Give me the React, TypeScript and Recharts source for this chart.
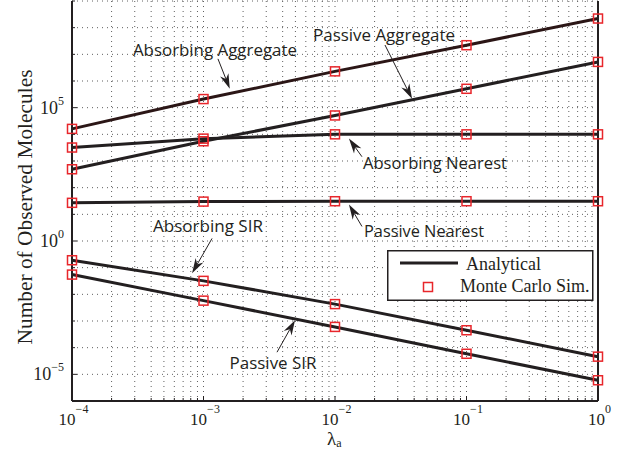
import React from 'react';
import { LineChart, Line, XAxis, YAxis, CartesianGrid, ReferenceLine, ReferenceDot, Legend } from 'recharts';

// lambda_a values where the curves were evaluated / simulated
const lambdaA = [1e-4, 1e-3, 1e-2, 1e-1, 1];

const absorbingAggregate = [1.6e4, 2.1e5, 2.3e6, 2.2e7, 2.2e8];
const passiveAggregate = [490, 5.5e3, 5.1e4, 5.1e5, 5.2e6];
const absorbingNearest = [3.2e3, 6.9e3, 1.0e4, 1.0e4, 1.0e4];
const passiveNearest = [27, 30, 31, 31, 31];
const absorbingSIR = [0.19, 0.032, 4.3e-3, 4.5e-4, 4.6e-5];
const passiveSIR = [0.055, 5.8e-3, 6.0e-4, 5.9e-5, 6.0e-6];

const seriesKeys = ['absAgg', 'pasAgg', 'absNear', 'pasNear', 'absSIR', 'pasSIR'];
const seriesColors = ['#2b1616', '#231f20', '#231f20', '#231f20', '#231f20', '#231f20'];

// axis decades (exponents)
const xDecades = [-4, -3, -2, -1, 0];
const yDecades = [-6, -5, -4, -3, -2, -1, 0, 1, 2, 3, 4, 5, 6, 7, 8, 9];
const yLabelled = [-5, 0, 5];
const minorSteps = [1, 2, 3, 4, 5, 6, 7, 8, 9];

// annotations: text position and arrow (tail -> head), in log10 units
const annotations = [
  { text: 'Absorbing Aggregate', tx: -2.913, ty: 6.94, w: 164, ax: -2.89, ay: 6.83, hx: -2.80, hy: 5.71 },
  { text: 'Passive Aggregate', tx: -1.627, ty: 7.5, w: 142, ax: -1.62, ay: 7.35, hx: -1.414, hy: 5.33 },
  { text: 'Absorbing Nearest', tx: -1.24, ty: 2.715, w: 144, ax: -1.795, ay: 3.16, hx: -1.894, hy: 3.84 },
  { text: 'Passive Nearest', tx: -1.323, ty: 0.134, w: 120, ax: -1.795, ay: 0.545, hx: -1.894, hy: 1.37 },
  { text: 'Absorbing SIR', tx: -2.966, ty: 0.321, w: 110, ax: -2.935, ay: 0.096, hx: -3.087, hy: -1.21 },
  { text: 'Passive SIR', tx: -2.471, ty: -4.805, w: 87, ax: -2.441, ay: -4.17, hx: -2.304, hy: -2.97 },
];

const data = lambdaA.map((x, i) => ({
  x,
  absAgg: absorbingAggregate[i],
  pasAgg: passiveAggregate[i],
  absNear: absorbingNearest[i],
  pasNear: passiveNearest[i],
  absSIR: absorbingSIR[i],
  pasSIR: passiveSIR[i],
}));

const xTicks: number[] = [];
xDecades.forEach((d, i) => {
  if (i === xDecades.length - 1) xTicks.push(Math.pow(10, d));
  else minorSteps.forEach(m => xTicks.push(m * Math.pow(10, d)));
});
const yTicks = yDecades.map(d => Math.pow(10, d));

const exponentOf = (v: number) => {
  const l = Math.log10(v);
  return Math.abs(l - Math.round(l)) < 1e-6 ? Math.round(l) : null;
};
const supText = (e: number) => (e < 0 ? '\u2212' + Math.abs(e) : String(e));

const INK = '#231f20';
const SERIF = '"Liberation Serif", "Times New Roman", serif';
const SANS = '"Open Sans", "Noto Sans", sans-serif';

const XTick = (props: any) => {
  const { x, y, payload, side } = props;
  const e = exponentOf(payload.value);
  const len = e !== null ? 5 : 3;
  if (side === 'top') {
    return <line x1={x} y1={y} x2={x} y2={y + len} stroke={INK} strokeWidth={1} />;
  }
  return (
    <g>
      <line x1={x} y1={y} x2={x} y2={y - len} stroke={INK} strokeWidth={1} />
      {e !== null && (
        <text x={x + 1.5} y={y + 24} textAnchor="middle" fontFamily={SERIF} fontSize={17} fill={INK}>
          <tspan>10</tspan>
          <tspan dy={-12} fontSize={12}>{supText(e)}</tspan>
        </text>
      )}
    </g>
  );
};

const YTick = (props: any) => {
  const { x, y, payload, side } = props;
  const e = exponentOf(payload.value);
  const major = e !== null && yLabelled.includes(e);
  const len = major ? 5 : 3;
  if (side === 'right') {
    return <line x1={x} y1={y} x2={x - len} y2={y} stroke={INK} strokeWidth={1} />;
  }
  return (
    <g>
      <line x1={x} y1={y} x2={x + len} y2={y} stroke={INK} strokeWidth={1} />
      {major && (
        <text x={x - 8} y={y + 6} textAnchor="end" fontFamily={SERIF} fontSize={18} fill={INK}>
          <tspan>10</tspan>
          <tspan dy={-9} fontSize={12}>{supText(e as number)}</tspan>
        </text>
      )}
    </g>
  );
};

const Square = (props: any) => {
  const { cx, cy, index } = props;
  return (
    <rect key={index} x={cx - 4.5} y={cy - 4.5} width={9} height={9} fill="none" stroke="#e8262b" strokeWidth={1.5} />
  );
};

const Arrow = (props: any) => {
  const { x1, y1, x2, y2 } = props;
  const dx = x2 - x1;
  const dy = y2 - y1;
  const L = Math.sqrt(dx * dx + dy * dy) || 1;
  const ux = dx / L;
  const uy = dy / L;
  const hl = 15;
  const hw = 4.5;
  const bx = x2 - ux * hl;
  const by = y2 - uy * hl;
  const nx = x2 - ux * hl * 0.7;
  const ny = y2 - uy * hl * 0.7;
  const pts = [
    [x2, y2],
    [bx - uy * hw, by + ux * hw],
    [nx, ny],
    [bx + uy * hw, by - ux * hw],
  ]
    .map(p => p.join(','))
    .join(' ');
  return (
    <g>
      <line x1={x1} y1={y1} x2={nx} y2={ny} stroke={INK} strokeWidth={1} />
      <polygon points={pts} fill={INK} />
    </g>
  );
};

const LegendBox = () => (
  <svg width={207} height={52} style={{ display: 'block' }}>
    <rect x={0.75} y={0.75} width={205} height={49.5} fill="#fff" stroke={INK} strokeWidth={1.5} />
    <line x1={13} y1={13} x2={71} y2={13} stroke={INK} strokeWidth={3} />
    <text x={79} y={20} fontFamily={SERIF} fontSize={18} fill={INK}>Analytical</text>
    <rect x={36.5} y={32.5} width={9} height={9} fill="none" stroke="#e8262b" strokeWidth={1.5} />
    <text x={73} y={42} fontFamily={SERIF} fontSize={18} fill={INK}>Monte Carlo Sim.</text>
  </svg>
);

export default function App() {
  return (
    <div style={{ position: 'absolute', left: 0, top: 0, width: 624, height: 451, background: '#fff' }}>
      <LineChart width={624} height={451} data={data} margin={{ top: 1, right: 0, bottom: 0, left: 0 }}>
        <CartesianGrid
          xAxisId="b"
          yAxisId="l"
          stroke="#5f5f5f"
          strokeDasharray="1 4"
          strokeWidth={1}
        />
        <XAxis
          xAxisId="b"
          dataKey="x"
          type="number"
          scale="log"
          domain={[1e-4, 1]}
          ticks={xTicks}
          interval={0}
          height={50}
          tickSize={0}
          tickMargin={0}
          tickLine={false}
          axisLine={{ stroke: INK, strokeWidth: 2 }}
          tick={(p: any) => <XTick {...p} side="bottom" />}
          label={{
            content: () => (
              <text x={327} y={445} fontFamily={SERIF} fontSize={19} fill={INK}>
                λ<tspan dy={2} fontSize={12}>a</tspan>
              </text>
            ),
          }}
        />
        <XAxis
          xAxisId="t"
          orientation="top"
          dataKey="x"
          type="number"
          scale="log"
          domain={[1e-4, 1]}
          ticks={xTicks}
          interval={0}
          height={0}
          tickSize={0}
          tickMargin={0}
          tickLine={false}
          axisLine={{ stroke: INK, strokeWidth: 2 }}
          tick={(p: any) => <XTick {...p} side="top" />}
        />
        <YAxis
          yAxisId="l"
          type="number"
          scale="log"
          domain={[1e-6, 1e9]}
          ticks={yTicks}
          interval={0}
          width={72}
          tickSize={0}
          tickMargin={0}
          tickLine={false}
          axisLine={{ stroke: INK, strokeWidth: 2 }}
          tick={(p: any) => <YTick {...p} side="left" />}
          label={{
            content: () => (
              <text
                x={32}
                y={207}
                transform="rotate(-90, 32, 207)"
                textAnchor="middle"
                fontFamily={SERIF}
                fontSize={22}
                textLength={275}
                lengthAdjust="spacingAndGlyphs"
                fill={INK}
              >
                Number of Observed Molecules
              </text>
            ),
          }}
        />
        <YAxis
          yAxisId="r"
          orientation="right"
          type="number"
          scale="log"
          domain={[1e-6, 1e9]}
          ticks={yTicks}
          interval={0}
          width={26}
          tickSize={0}
          tickMargin={0}
          tickLine={false}
          axisLine={{ stroke: INK, strokeWidth: 2 }}
          tick={(p: any) => <YTick {...p} side="right" />}
        />
        {seriesKeys.map((k, i) => (
          <Line
            key={k}
            xAxisId="b"
            yAxisId="l"
            dataKey={k}
            type="linear"
            stroke={seriesColors[i]}
            strokeWidth={3}
            dot={Square}
            activeDot={false}
            isAnimationActive={false}
          />
        ))}
        {annotations.map(a => (
          <ReferenceLine
            key={'arrow-' + a.text}
            xAxisId="b"
            yAxisId="l"
            segment={[
              { x: Math.pow(10, a.ax), y: Math.pow(10, a.ay) },
              { x: Math.pow(10, a.hx), y: Math.pow(10, a.hy) },
            ]}
            ifOverflow="visible"
            shape={Arrow}
          />
        ))}
        {annotations.map(a => (
          <ReferenceDot
            key={'label-' + a.text}
            xAxisId="b"
            yAxisId="l"
            x={Math.pow(10, a.tx)}
            y={Math.pow(10, a.ty)}
            r={0}
            ifOverflow="visible"
            shape={(p: any) => (
              <text
                x={p.cx}
                y={p.cy}
                textAnchor="middle"
                fontFamily={SANS}
                fontSize={16}
                textLength={a.w}
                lengthAdjust="spacingAndGlyphs"
                fill={INK}
              >
                {a.text}
              </text>
            )}
          />
        ))}
        <Legend
          layout="vertical"
          align="center"
          verticalAlign="middle"
          content={LegendBox}
          wrapperStyle={{ left: 387, top: 250, width: 207, height: 52 }}
        />
      </LineChart>
    </div>
  );
}
